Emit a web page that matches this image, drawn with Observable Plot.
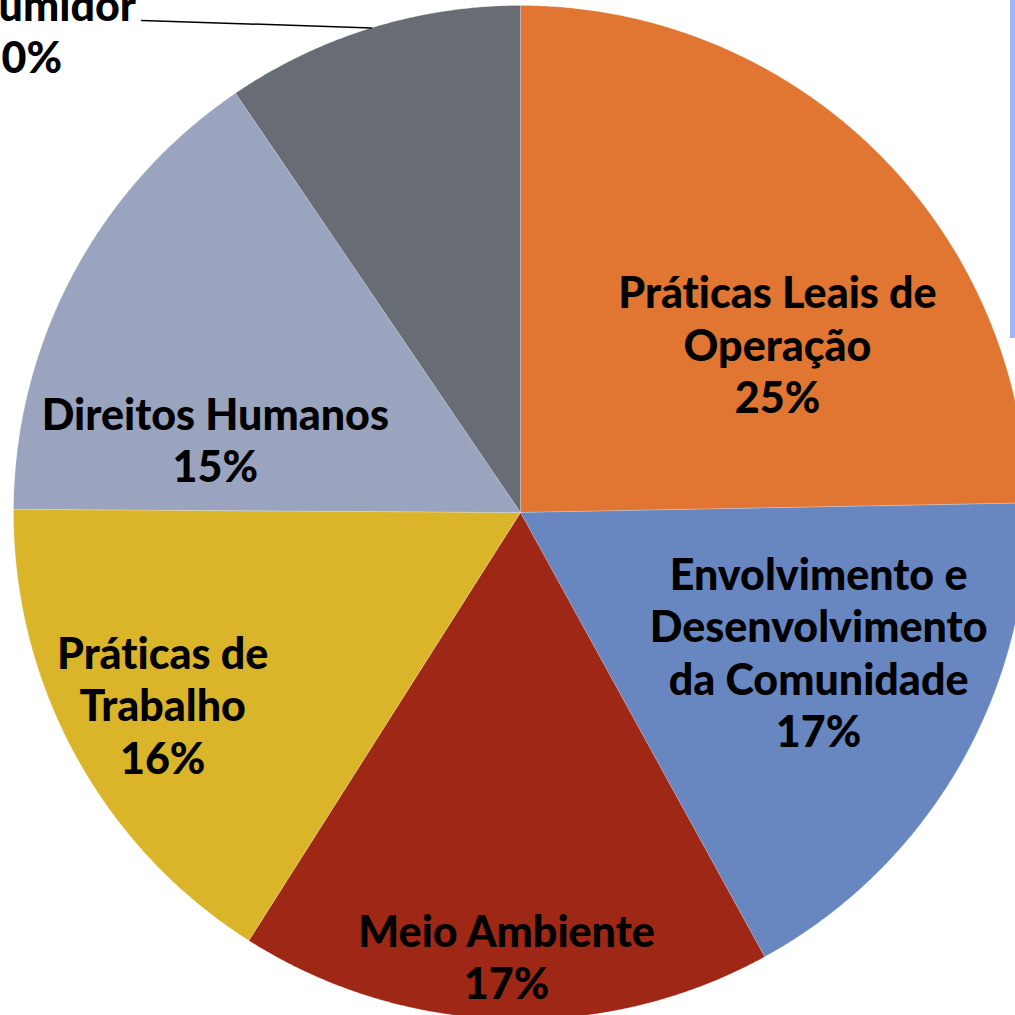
<!DOCTYPE html>
<html><head><meta charset="utf-8">
<script src="https://cdn.jsdelivr.net/npm/d3@7"></script>
<script src="https://cdn.jsdelivr.net/npm/@observablehq/plot@0.6"></script>
<style>
html,body{margin:0;padding:0;background:#fff;overflow:hidden}
#chart{position:relative;width:1015px;height:1015px}
#chart svg{position:absolute;left:0;top:0}
#chart svg text{font-variant-ligatures:none}
#frame{position:absolute;left:1010px;top:0;width:5px;height:338px;background:#9bb7f6;z-index:2}
</style></head><body>
<div id="chart"><div id="frame"></div></div>
<script>
// ---- data ----
const categories = ["Práticas Leais de Operação", "Envolvimento e Desenvolvimento da Comunidade", "Meio Ambiente", "Práticas de Trabalho", "Direitos Humanos", "Questões do Consumidor"];
const labelLines = [["Práticas Leais de", "Operação"], ["Envolvimento e", "Desenvolvimento", "da Comunidade"], ["Meio Ambiente"], ["Práticas de", "Trabalho"], ["Direitos Humanos"], ["Questões do", "Consumidor"]];
const shares = [24.7, 17.3, 17.0, 16.1, 15.4, 9.5];
const colors = ["#E07632", "#6886C0", "#9E2715", "#DAB52A", "#9AA4BE", "#686C74"];

// ---- label layout (polar: shift from slice mid-angle in degrees, radius as fraction of pie radius) ----
const labelAngleShift = [12.3, -5, 0, 0.4, -14.6, -27.5];
const labelRadius = [0.606, 0.649, 0.876, 0.801, 0.619, 1.408];
const leaderStart = {angleShift: -20.5, radius: 1.225}; // only for the outside label
const outsideLabel = 5;

const data = categories.map((c, i) => ({category: c, share: shares[i], color: colors[i], lines: labelLines[i]}));
const arcs = d3.pie().sort(null).value(d => d.share)(data);

const polar = (a, r) => ({x: r * Math.sin(a), y: r * Math.cos(a)});
const deg = Math.PI / 180;

const polys = arcs.map(a => {
  const pts = [{x: 0, y: 0}];
  const n = Math.max(2, Math.ceil((a.endAngle - a.startAngle) / 0.004));
  for (let k = 0; k <= n; k++) pts.push(polar(a.startAngle + (a.endAngle - a.startAngle) * k / n, 1));
  pts.push({x: 0, y: 0});
  return pts;
});

const labels = arcs.map((a, i) => {
  const mid = (a.startAngle + a.endAngle) / 2 + labelAngleShift[i] * deg;
  const p = polar(mid, labelRadius[i]);
  return {x: p.x, y: p.y, text: a.data.lines.join("\n") + "\n" + Math.round(a.data.share) + "%"};
});

const oa = arcs[outsideLabel];
const omid = (oa.startAngle + oa.endAngle) / 2;
const leader = [polar(omid + leaderStart.angleShift * deg, leaderStart.radius), polar(omid, 1)];

const R = 507, W = 1015, cx = 520, cy = 512;
const plot = Plot.plot({
  width: W, height: W, margin: 0,
  x: {domain: [-cx / R, (W - cx) / R], axis: null},
  y: {domain: [-(W - cy) / R, cy / R], axis: null},
  style: {background: "transparent", overflow: "visible", fontFamily: "Lato"},
  marks: [
    ...polys.map((p, i) => Plot.line(p, {x: "x", y: "y", fill: colors[i], stroke: "#ffffff", strokeWidth: 0.6, strokeOpacity: 0.35})),
    Plot.line(leader, {x: "x", y: "y", stroke: "#000", strokeWidth: 1.5}),
    Plot.text(labels, {x: "x", y: "y", text: "text", fontSize: 43, fontWeight: 900, fontFamily: "Lato", lineHeight: 1.22, textAnchor: "middle", lineAnchor: "middle", fill: "#000"})
  ]
});
document.getElementById("chart").insertBefore(plot, document.getElementById("frame"));
</script>
</body></html>
